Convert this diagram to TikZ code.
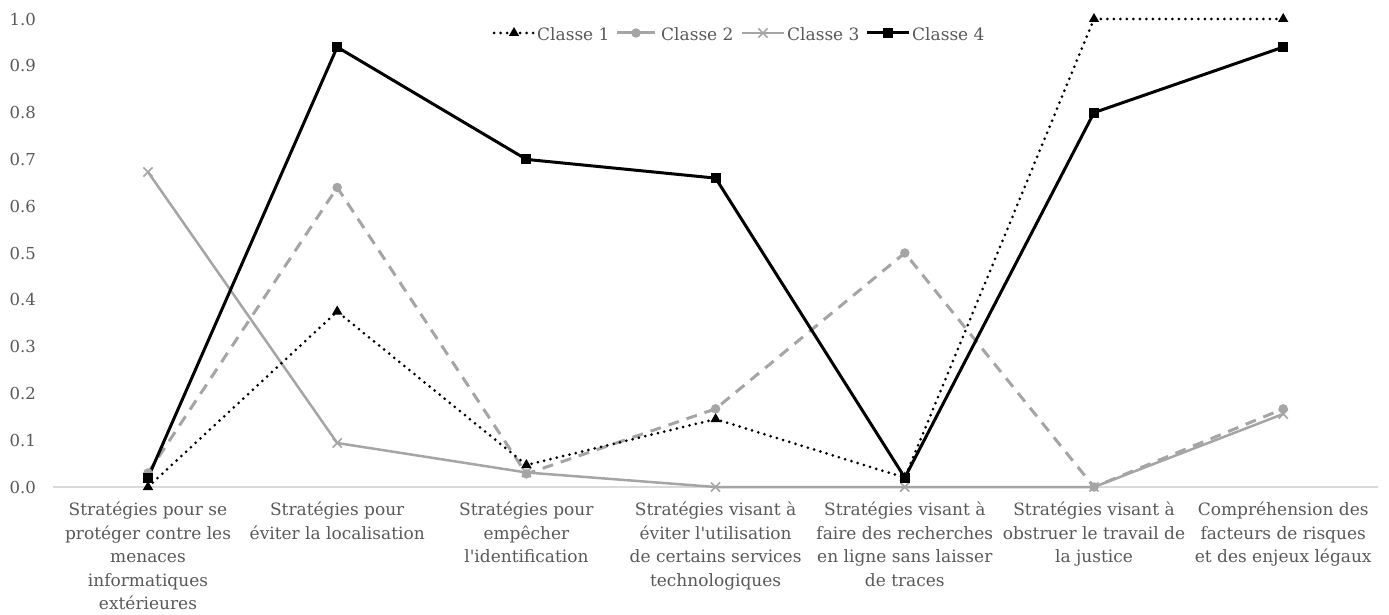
\documentclass[tikz,border=0pt]{standalone}
\usepackage{fontspec}
\setmainfont{DejaVu Serif}[Ligatures=TeXOff]
\usetikzlibrary{shapes.geometric,shapes.misc}
\definecolor{txt}{HTML}{595959}
\definecolor{ser}{HTML}{A5A5A5}
\definecolor{axisc}{HTML}{D9D9D9}
\tikzset{
  ylab/.style={anchor=east,text=txt,font=\fontsize{16.5}{18}\selectfont,inner sep=0pt},
  catlab/.style={anchor=north,text=txt,align=center,font=\fontsize{17}{23.4}\selectfont,inner sep=0pt},
  leglab/.style={anchor=west,text=txt,font=\fontsize{17}{19}\selectfont,inner sep=0pt},
  sone/.style={black,line width=3pt,dash pattern=on 0pt off 6.5pt,line cap=round},
  stwo/.style={ser,line width=3pt,dash pattern=on 11pt off 8pt},
  sthree/.style={ser,line width=2.5pt},
  sfour/.style={black,line width=3pt},
  mone/.style={regular polygon,regular polygon sides=3,fill=black,minimum size=12pt,inner sep=0pt},
  mtwo/.style={circle,fill=ser,minimum size=9.5pt,inner sep=0pt},
  mthree/.style={cross out,draw=ser,line width=1.6pt,minimum size=7.5pt,inner sep=0pt},
  mfour/.style={rectangle,fill=black,minimum size=10pt,inner sep=0pt},
}
\begin{document}
\begin{tikzpicture}[x=1pt,y=-1pt]
\useasboundingbox (0,0) rectangle (1389,615);
\fill[white] (0,0) rectangle (1389,615);
% axis
\coordinate (axL) at (53,487);
\coordinate (axR) at (1378,487);
\draw[axisc,line width=1.3pt] (axL) -- (axR);
% y labels
\foreach \v/\l in {0/0.0,1/0.1,2/0.2,3/0.3,4/0.4,5/0.5,6/0.6,7/0.7,8/0.8,9/0.9,10/1.0}{
  \node[ylab] (yl\v) at (36,{487-46.8*\v}) {\l};
}
% category labels
\foreach \i/\t in {
 1/{Stratégies pour se\\protéger contre les\\menaces\\informatiques\\extérieures},
 2/{Stratégies pour\\éviter la localisation},
 3/{Stratégies pour\\empêcher\\l'identification},
 4/{Stratégies visant à\\éviter l'utilisation\\de certains services\\technologiques},
 5/{Stratégies visant à\\faire des recherches\\en ligne sans laisser\\de traces},
 6/{Stratégies visant à\\obstruer le travail de\\la justice},
 7/{Compréhension des\\facteurs de risques\\et des enjeux légaux}}{
  \node[catlab] (cat\i) at ({148+189.2*(\i-1)},502) {\t};
}
% data coordinates
\foreach \s/\vals in {1/{0,0.375,0.047,0.145,0.02,1,1},
                      2/{0.03,0.64,0.028,0.167,0.5,0,0.167},
                      3/{0.673,0.094,0.031,0,0,0,0.156},
                      4/{0.02,0.94,0.70,0.66,0.02,0.80,0.94}}{
  \foreach \v [count=\i] in \vals {
    \coordinate (p\s-\i) at ({148+189.2*(\i-1)},{487-468*\v});
  }
}
% series lines
\draw[sthree] (p3-1) -- (p3-2) -- (p3-3) -- (p3-4) -- (p3-5) -- (p3-6) -- (p3-7);
\draw[stwo] (p2-1) -- (p2-2) -- (p2-3) -- (p2-4) -- (p2-5) -- (p2-6) -- (p2-7);
\draw[sone] (p1-1) -- (p1-2) -- (p1-3) -- (p1-4) -- (p1-5) -- (p1-6) -- (p1-7);
\draw[sfour] (p4-1) -- (p4-2) -- (p4-3) -- (p4-4) -- (p4-5) -- (p4-6) -- (p4-7);
% markers
\foreach \i in {1,...,7}{
  \node[mthree] (m3-\i) at (p3-\i) {};
  \node[mtwo] (m2-\i) at (p2-\i) {};
  \node[mone] (m1-\i) at (p1-\i) {};
  \node[mfour] (m4-\i) at (p4-\i) {};
}
% legend
\coordinate (lg1a) at (494,33); \coordinate (lg1b) at (534,33);
\coordinate (lg2a) at (617,33); \coordinate (lg2b) at (655,33);
\coordinate (lg3a) at (742,33); \coordinate (lg3b) at (784,33);
\coordinate (lg4a) at (867,33); \coordinate (lg4b) at (909,33);
\draw[sone] (lg1a) -- (lg1b);
\draw[ser,line width=3pt] (lg2a) -- (lg2b);
\draw[sthree] (lg3a) -- (lg3b);
\draw[sfour] (lg4a) -- (lg4b);
\node[mone] (lm1) at (514,33) {};
\node[mtwo] (lm2) at (636,33) {};
\node[mthree] (lm3) at (763,33) {};
\node[mfour] (lm4) at (888,33) {};
\node[leglab] (lt1) at (537,34) {Classe 1};
\node[leglab] (lt2) at (661,34) {Classe 2};
\node[leglab] (lt3) at (787,34) {Classe 3};
\node[leglab] (lt4) at (912,34) {Classe 4};
\end{tikzpicture}
\end{document}
